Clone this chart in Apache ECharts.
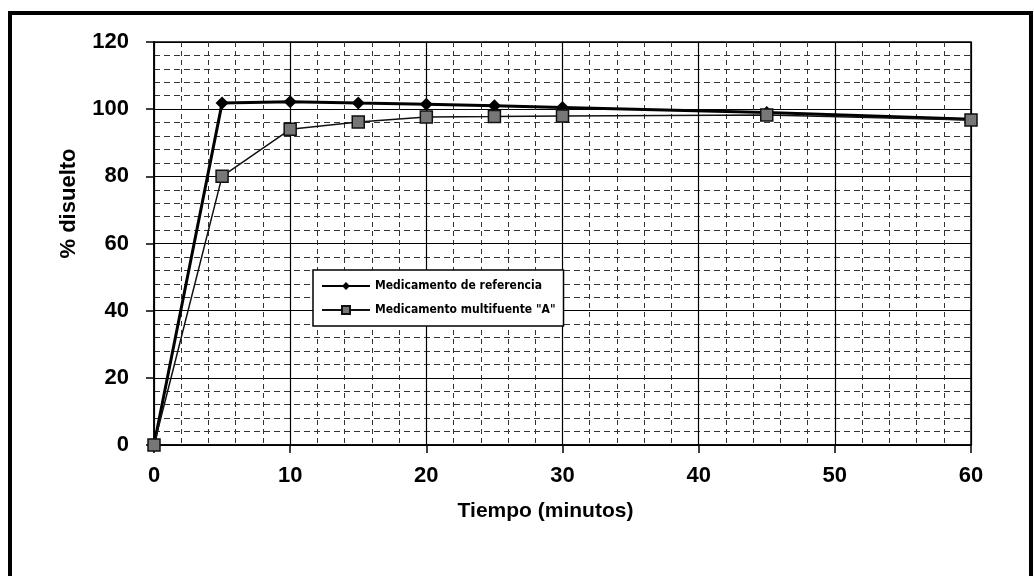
<!DOCTYPE html>
<html>
<head>
<meta charset="utf-8">
<script src="https://cdn.jsdelivr.net/npm/echarts@6/dist/echarts.min.js"></script>
<style>
  html, body { margin: 0; padding: 0; background: #fff; }
  #chart { width: 1034px; height: 576px; }
</style>
</head>
<body>
<div id="chart"></div>
<script>
// tiempos de muestreo (minutos)
var tiempos = [0, 5, 10, 15, 20, 25, 30, 45, 60]
// % disuelto
var referencia = [0, 101.8, 102.2, 101.8, 101.5, 101, 100.5, 99, 97]
var multifuente = [0, 80, 94, 96.2, 97.7, 97.8, 98, 98.3, 96.8]

var nombres = ['Medicamento de referencia', 'Medicamento multifuente "A"']

function pares(xs, ys) {
  var out = []
  for (var i = 0; i < xs.length; i++) out.push([xs[i], ys[i]])
  return out
}

var fuente = "'Liberation Sans', Arial, sans-serif"

var option = {
  animation: false,
  backgroundColor: '#fff',
  grid: {
    left: 154,
    top: 42,
    right: 63,
    bottom: 131,
    show: true,
    borderColor: '#000',
    borderWidth: 1.5
  },
  legend: {
    orient: 'vertical',
    left: 313,
    top: 270,
    itemWidth: 48,
    itemHeight: 10,
    itemGap: 12,
    padding: [10, 8, 10, 8],
    backgroundColor: '#fff',
    borderColor: '#000',
    borderWidth: 1.5,
    textStyle: {
      fontFamily: "'Liberation Sans Narrow', 'DejaVu Sans Condensed', sans-serif",
      fontWeight: 'bold',
      fontSize: 12,
      color: '#000'
    },
    data: nombres
  },
  xAxis: {
    type: 'value',
    min: 0,
    max: 60,
    interval: 10,
    name: 'Tiempo (minutos)',
    nameLocation: 'middle',
    nameGap: 56,
    nameTextStyle: { fontFamily: fuente, fontWeight: 'bold', fontSize: 21, color: '#000', padding: [0, 34, 0, 0] },
    axisLine: { lineStyle: { color: '#000', width: 1.5 } },
    axisTick: { show: true, length: 8, lineStyle: { color: '#000', width: 1.5 } },
    axisLabel: { margin: 20, fontFamily: fuente, fontWeight: 'bold', fontSize: 22, color: '#000' },
    splitLine: { show: true, lineStyle: { color: '#000', width: 1.2 } },
    minorTick: { show: false, splitNumber: 5 },
    minorSplitLine: { show: true, lineStyle: { color: '#333', width: 1, type: [5, 4] } }
  },
  yAxis: {
    type: 'value',
    min: 0,
    max: 120,
    interval: 20,
    name: '% disuelto',
    nameLocation: 'middle',
    nameGap: 74,
    nameRotate: 90,
    nameTextStyle: { fontFamily: fuente, fontWeight: 'bold', fontSize: 22, color: '#000', padding: [0, 0, 0, 80] },
    axisLine: { show: true, lineStyle: { color: '#000', width: 1.5 } },
    axisTick: { show: true, length: 8, lineStyle: { color: '#000', width: 1.5 } },
    axisLabel: { margin: 25, fontFamily: fuente, fontWeight: 'bold', fontSize: 22, color: '#000' },
    splitLine: { show: true, lineStyle: { color: '#000', width: 1.2 } },
    minorTick: { show: false, splitNumber: 5 },
    minorSplitLine: { show: true, lineStyle: { color: '#333', width: 1, type: [6, 4] } }
  },
  series: [
    {
      name: nombres[0],
      type: 'line',
      data: pares(tiempos, referencia),
      symbol: 'diamond',
      symbolSize: 13,
      lineStyle: { color: '#000', width: 3 },
      itemStyle: { color: '#000' },
      z: 3
    },
    {
      name: nombres[1],
      type: 'line',
      data: pares(tiempos, multifuente),
      symbol: 'rect',
      symbolSize: 12,
      lineStyle: { color: '#111', width: 1.5 },
      itemStyle: { color: '#777', borderColor: '#111', borderWidth: 1.5 },
      z: 4
    }
  ],
  graphic: [{
    type: 'rect',
    shape: { x: 10, y: 13, width: 1021, height: 600 },
    style: { fill: 'none', stroke: '#000', lineWidth: 4 },
    silent: true
  }]
}

var chart = echarts.init(document.getElementById('chart'))
chart.setOption(option, true)
</script>
</body>
</html>
